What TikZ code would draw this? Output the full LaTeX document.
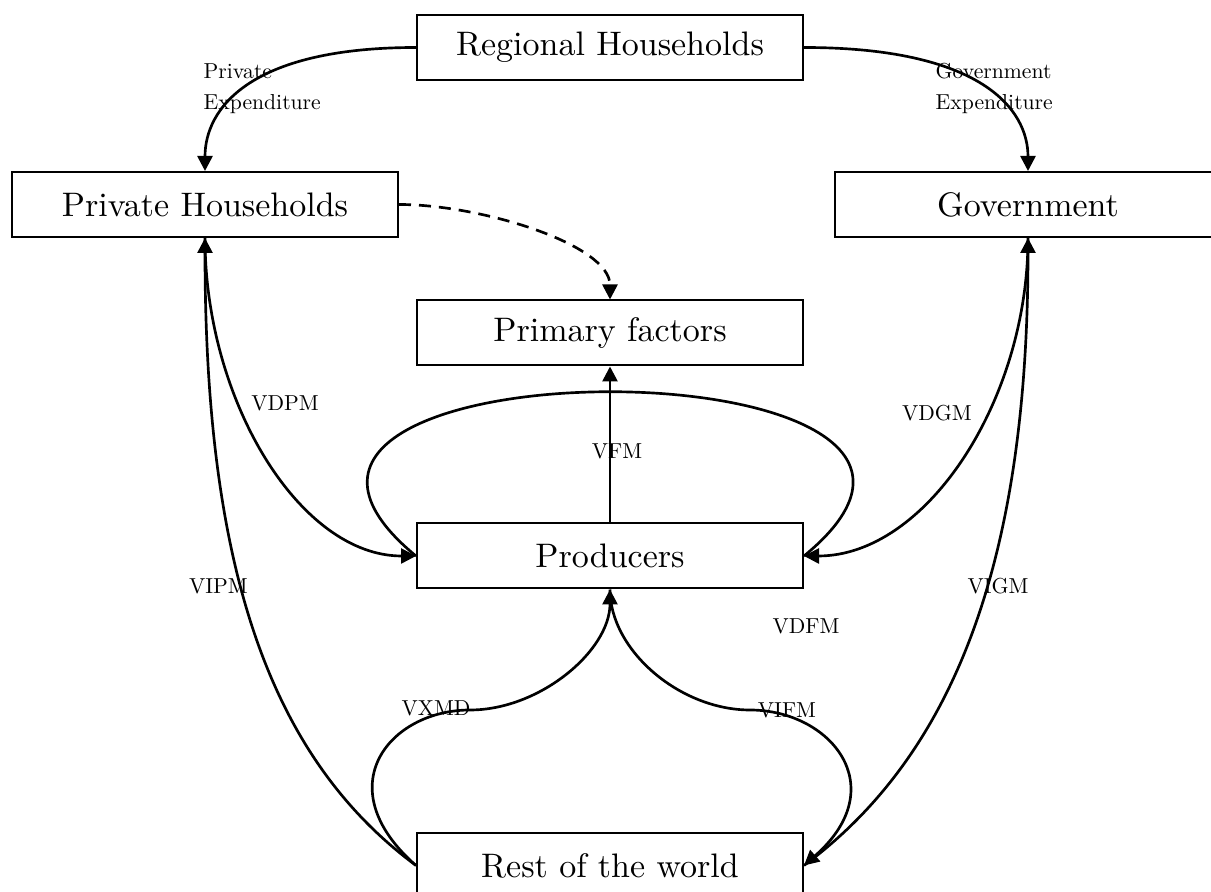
\documentclass[tikz,border=0pt]{standalone}
\usepackage{fontspec}
\newfontfamily\lblfont{lmroman10-regular.otf}
\usetikzlibrary{arrows.meta}
\tikzset{
  box/.style={draw, line width=0.6pt, minimum width=115.8pt, minimum height=19.5pt, inner sep=0pt, font=\lblfont\fontsize{10.2}{12}\selectfont},
  conn/.style={line width=0.8pt},
  arr/.style={-{Triangle[length=4.5pt,width=4.5pt]}},
  lbl/.style={inner sep=0pt, font=\lblfont\fontsize{6.5}{9.2}\selectfont},
}
\begin{document}
\begin{tikzpicture}[x=0.3pt, y=-0.3pt]
\useasboundingbox (0,0) rectangle (1211,892);
\clip (0,0) rectangle (1211,892);
% boxes
\node[box] (reg)  at (610,47.5)  {Regional Households};
\node[box] (priv) at (205,204.5) {Private Households};
\node[box] (gov)  at (1028,204.5) {Government};
\node[box] (prim) at (610,333)   {Primary factors};
\node[box] (prod) at (610,556)   {Producers};
\node[box] (row)  at (610,865.5) {Rest of the world};
\coordinate (xl) at (470,710);
\coordinate (xr) at (750,710);
% connectors
\draw[conn,arr] (reg.west) .. controls +(-167,0) and +(0,-62) .. (priv.north);
\draw[conn,arr] (reg.east) .. controls +(177,0) and +(0,-62) .. (gov.north);
\draw[conn,arr,dash pattern=on 3.6pt off 2.4pt] (priv.east) .. controls +(82,0) and +(0,-55) .. (prim.north);
\draw[conn,arr] (prod.north) -- (prim.south);
\draw[conn,arr] (priv.south) .. controls +(0,163) and +(-116,0) .. (prod.west);
\draw[conn,arr] (row.west) .. controls +(-150,-111) and +(0,323) .. (priv.south);
\draw[conn,arr] (gov.south) .. controls +(0,163) and +(122,0) .. (prod.east);
\draw[conn,arr] (row.east) .. controls +(150,-111) and +(0,323) .. (gov.south);
\draw[conn] (prod.west) .. controls +(-266,-219) and +(267,-219) .. (prod.east);
\draw[conn,arr] (row.west) .. controls +(-90,-79) and +(-80,0) .. (xl) .. controls +(70,0) and +(0,61) .. (prod.south);
\draw[conn,arr] (prod.south) .. controls +(0,61) and +(-70,0) .. (xr) .. controls +(80,0) and +(90,-79) .. (row.east);
% labels
\node[lbl, anchor=north west, align=left] (lpe) at (203,63) {Private\\Expenditure};
\node[lbl, anchor=north west, align=left] (lge) at (935,63) {Government\\Expenditure};
\node[lbl] (lvdpm) at (285,403.5) {VDPM};
\node[lbl] (lvipm) at (218.5,586.5) {VIPM};
\node[lbl] (lvdgm) at (937,413.5) {VDGM};
\node[lbl] (lvigm) at (998,586.5) {VIGM};
\node[lbl] (lvdfm) at (806,626.5) {VDFM};
\node[lbl] (lvxmd) at (436,708.5) {VXMD};
\node[lbl] (lvifm) at (787,710) {VIFM};
\node[lbl] (lvfm)  at (617,451) {VFM};
\end{tikzpicture}
\end{document}
